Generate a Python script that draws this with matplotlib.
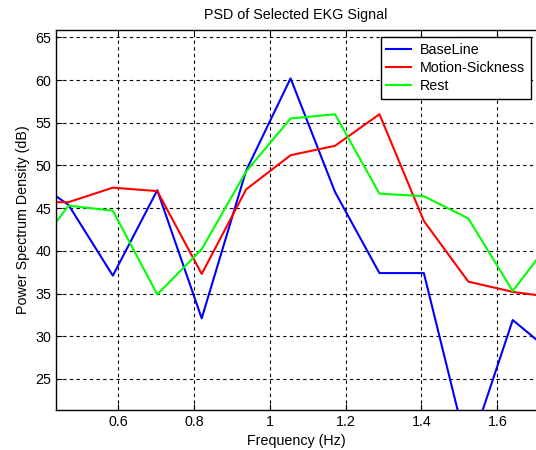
import numpy as np
import matplotlib
matplotlib.use("Agg")
import matplotlib.pyplot as plt

# frequency bins k * 60/512 Hz, k = 3..15
bins = [3, 4, 5, 6, 7, 8, 9, 10, 11, 12, 13, 14, 15]
freq = [k * 60.0 / 512.0 for k in bins]

baseline = [49.0, 45.4, 37.1, 47.1, 32.1, 49.4, 60.2, 46.9, 37.4, 37.4, 16.3, 31.9, 27.6]
motion = [45.7, 45.7, 47.4, 47.0, 37.3, 47.2, 51.2, 52.3, 56.0, 43.5, 36.4, 35.2, 34.5]
rest = [38.3, 45.3, 44.7, 34.9, 40.2, 49.3, 55.5, 56.0, 46.7, 46.4, 43.8, 35.3, 42.1]

series_names = ["BaseLine", "Motion-Sickness", "Rest"]
colors = ["#0000ff", "#ff0000", "#00ff00"]

xticks = [0.6, 0.8, 1.0, 1.2, 1.4, 1.6]
xticklabels = ["0.6", "0.8", "1", "1.2", "1.4", "1.6"]
yticks = [25, 30, 35, 40, 45, 50, 55, 60, 65]

plt.rcParams['font.family'] = ['Liberation Sans', 'DejaVu Sans']
FS = 10.3

fig = plt.figure(figsize=(5.36, 4.5), dpi=100)
ax = fig.add_axes([56 / 536, 1 - 410 / 450, 1 - 56 / 536, 380 / 450])

for name, vals, c in zip(series_names, [baseline, motion, rest], colors):
    ax.plot(freq, vals, color=c, lw=1.5, label=name)

ax.set_xlim(0.436, 1.702)
ax.set_ylim(21.37, 65.86)
ax.set_xticks(xticks)
ax.set_xticklabels(xticklabels)
ax.set_yticks(yticks)
ax.tick_params(direction='in', length=4, labelsize=FS, colors='black', top=True)
ax.grid(True, color='black', linestyle=(0, (3, 3)), linewidth=0.8)
ax.spines['right'].set_visible(False)
for s in ['left', 'top', 'bottom']:
    ax.spines[s].set_linewidth(1.0)

ax.set_title("PSD of Selected EKG Signal", fontsize=FS, pad=8)
ax.set_xlabel("Frequency (Hz)", fontsize=FS, labelpad=4)
ax.set_ylabel("Power Spectrum Density (dB)", fontsize=FS, labelpad=4)

leg = ax.legend(loc='upper right', bbox_to_anchor=(0.989, 0.982), fontsize=FS,
                fancybox=False, framealpha=1, edgecolor='black',
                handlelength=1.75, handletextpad=0.6, borderpad=0.4,
                labelspacing=0.3, borderaxespad=0)
leg.get_frame().set_linewidth(1.0)

fig.savefig("out.png", dpi=100)
